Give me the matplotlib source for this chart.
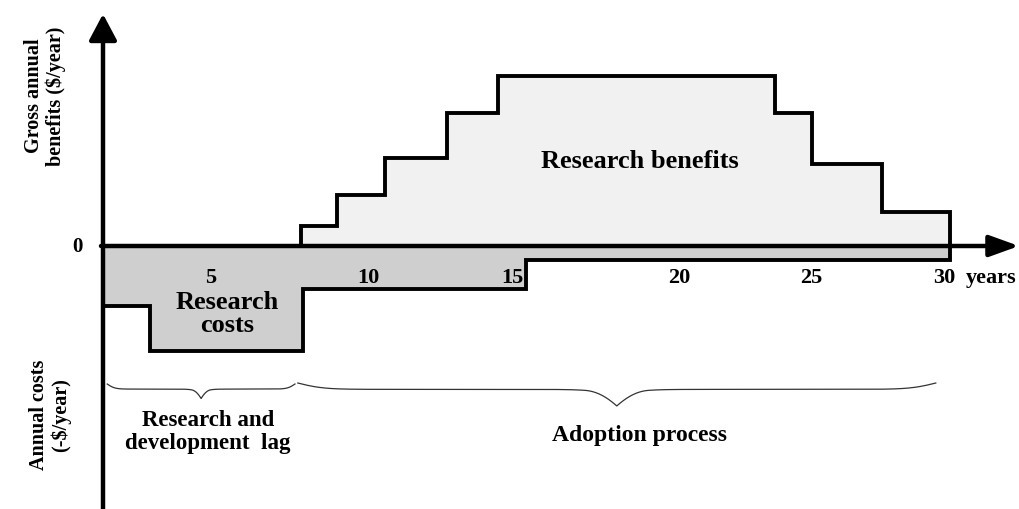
import numpy as np
import matplotlib
matplotlib.use("Agg")
import matplotlib.pyplot as plt

plt.rcParams['font.family'] = ['Liberation Serif', 'DejaVu Serif']

# benefit steps (years, $ units)
ben_edges = [7.0, 8.3, 10.0, 12.2, 14.0, 23.8, 25.1, 27.6, 30.0]
ben_levels = [1.2, 3.0, 5.2, 7.8, 10.0, 7.8, 4.8, 2.0]

# cost steps
cost_edges = [0.0, 1.66, 7.1, 15.0, 30.0]
cost_levels = [-3.5, -6.2, -2.5, -0.8]

tick_pos = [3.8, 9.4, 14.5, 20.4, 25.1, 29.8]
tick_labels = ['5', '10', '15', '20', '25', '30']

lag_span = [0.15, 6.8]
adopt_span = [6.9, 29.5]

PXX = 28.23  # px per year
PXY = 17.0   # px per $ unit
X0, Y0 = 103, 246


def px(x, y):
    return (x - X0) / PXX, (Y0 - y) / PXY


fig = plt.figure(figsize=(10.2, 5.09), dpi=100)
ax = fig.add_axes([0, 0, 1, 1])
ax.set_xlim(px(0, 0)[0], px(1020, 0)[0])
ax.set_ylim(px(0, 509)[1], px(0, 0)[1])
ax.axis('off')

# benefits
bx = np.repeat(ben_edges, 2)[1:-1]
by = np.repeat(ben_levels, 2)
ax.fill_between(bx, 0, by, color='#f1f1f1', lw=0)
ax.plot(np.r_[bx[0], bx, bx[-1]], np.r_[0, by, 0], color='black', lw=2.8,
        solid_joinstyle='miter')

# costs
cx = np.repeat(cost_edges, 2)[1:-1]
cy = np.repeat(cost_levels, 2)
ax.fill_between(cx, 0, cy, color='#cfcfcf', lw=0)
ax.plot(np.r_[cx, cx[-1]], np.r_[cy, 0], color='black', lw=2.8,
        solid_joinstyle='miter')

# axes arrows
ax.annotate('', xy=px(103, 14), xytext=px(103, 512),
            arrowprops=dict(arrowstyle='-|>,head_length=1.6,head_width=0.85',
                            lw=3.2, color='black', shrinkA=0, shrinkB=0))
ax.annotate('', xy=px(1019, 246), xytext=px(101, 246),
            arrowprops=dict(arrowstyle='-|>,head_length=1.8,head_width=0.65',
                            lw=3.2, color='black', shrinkA=0, shrinkB=0))


def brace(x0, x1, y, depth, tip):
    n = 200
    t = np.linspace(0, 1, n)
    half = 1 / (1 + np.exp(-25 * t)) + 1 / (1 + np.exp(-25 * (t - 1)))
    half = (half - half[0]) / (half[-1] - half[0])
    xm = (x0 + x1) / 2
    xs = np.r_[x0 + (xm - x0) * t, xm + (x1 - xm) * t]
    ys = np.r_[y - depth * half * 0.75 - tip * np.clip((t - 0.9) / 0.1, 0, 1) ** 2,
               (y - depth * half[::-1] * 0.75 - tip * np.clip((0.1 - t) / 0.1, 0, 1) ** 2)]
    ax.plot(xs, ys, color='#333333', lw=0.9)


brace(lag_span[0], lag_span[1], px(0, 384)[1], 0.8, 0.25)
brace(adopt_span[0], adopt_span[1], px(0, 383)[1], 1.0, 0.6)

# tick labels
tyv = px(0, 278)[1]
for p, lab in zip(tick_pos, tick_labels):
    ax.text(p, tyv, lab, ha='center', va='center', fontsize=16, fontweight='bold')
ax.text(tick_pos[-1] + 0.75, tyv, 'years', ha='left', va='center',
        fontsize=16, fontweight='bold')

ax.text(*px(77, 247), '0', ha='center', va='center', fontsize=15, fontweight='bold')

ax.text(*px(640, 161), 'Research benefits', ha='center', va='center',
        fontsize=19, fontweight='bold')
ax.text(*px(227, 314), 'Research\ncosts', ha='center', va='center',
        fontsize=19, fontweight='bold', linespacing=1.0)
ax.text(*px(208, 432), 'Research and\ndevelopment  lag', ha='center', va='center',
        fontsize=16.5, fontweight='bold', linespacing=1.1)
ax.text(*px(640, 435), 'Adoption process', ha='center', va='center',
        fontsize=17, fontweight='bold')

ax.text(*px(45, 96), 'Gross annual\nbenefits ($/year)', ha='center', va='center',
        rotation=90, fontsize=14.5, fontweight='bold', linespacing=1.05)
ax.text(*px(50, 415), 'Annual costs\n(-$/year)', ha='center', va='center',
        rotation=90, fontsize=14.5, fontweight='bold', linespacing=1.1)

fig.savefig('out.png', dpi=100)
